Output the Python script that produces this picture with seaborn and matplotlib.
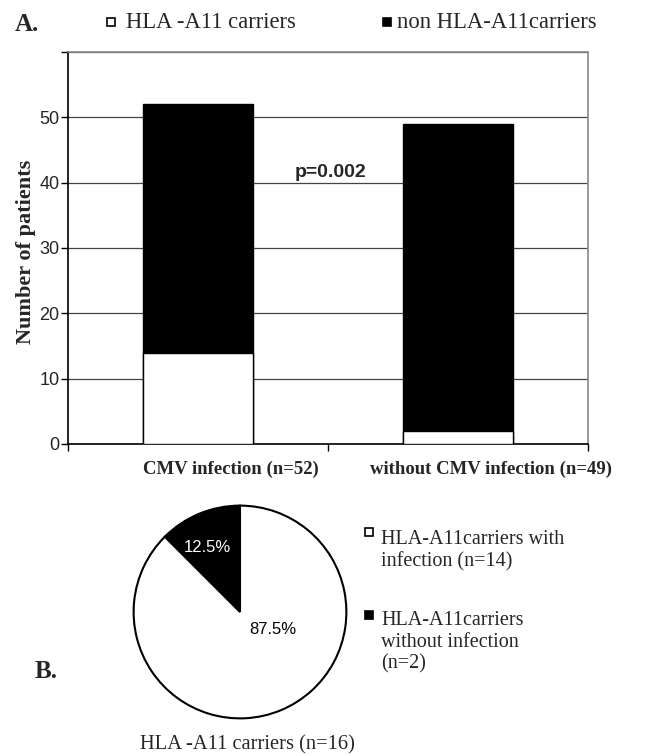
import numpy as np
import pandas as pd
import seaborn as sns
import matplotlib.pyplot as plt
import matplotlib.transforms as mtransforms
from matplotlib.lines import Line2D

# --- data -------------------------------------------------------------
groups = ['CMV infection (n=52)', 'without CMV infection (n=49)']
a11_carriers = [14, 2]
non_a11_carriers = [38, 47]
bar_legend = ['HLA -A11 carriers', 'non HLA-A11carriers']

pie_values = [2, 14]  # without infection, with infection
pie_colors = ['black', 'white']
pie_legend = ['HLA-A11carriers with\ninfection (n=14)',
              'HLA-A11carriers\nwithout infection\n(n=2)']
pie_title = 'HLA -A11 carriers (n=16)'
p_text = 'p=0.002'

yticks = [0, 10, 20, 30, 40, 50, 60]

sns.set_theme(style='white')
plt.rcParams['font.family'] = ['Liberation Serif', 'DejaVu Sans']

df = pd.DataFrame({'group': groups,
                   'carriers': a11_carriers,
                   'total': np.array(a11_carriers) + np.array(non_a11_carriers)})

fig = plt.figure(figsize=(6.45, 7.55), dpi=100)

def fy(py):
    # pixel row -> figure fraction
    return 1 - py / 755

# --- panel A: stacked bars -------------------------------------------
ax = fig.add_axes([68 / 645, fy(444), 520 / 645, 392 / 755])
sns.barplot(data=df, x='group', y='total', color='black', width=0.42,
            edgecolor='black', linewidth=1, saturation=1, ax=ax, zorder=3)
sns.barplot(data=df, x='group', y='carriers', color='white', width=0.42,
            edgecolor='black', linewidth=1, saturation=1, ax=ax, zorder=3)

ax.set_xlim(-0.5, 1.5)
ax.set_ylim(0, 60)
ax.set_yticks(yticks)
ax.set_yticklabels([str(t) if t < 60 else '' for t in yticks],
                   family='Liberation Sans', fontsize=13)
ax.yaxis.grid(True, color='#444444', linewidth=0.9)
ax.set_axisbelow(True)
ax.tick_params(axis='y', which='major', left=True, length=5, width=1,
               color='black', pad=1)
ax.set_xticks([-0.5, 0.5, 1.5], minor=True)
ax.tick_params(axis='x', which='minor', bottom=True, length=5, width=1,
               color='black')
ax.tick_params(axis='x', which='major', length=0, pad=12)
ax.set_xticklabels(groups, fontsize=13.5, fontweight='bold')
shift = mtransforms.ScaledTranslation(0.33, 0, fig.dpi_scale_trans)
for lab in ax.get_xticklabels():
    lab.set_transform(lab.get_transform() + shift)
ax.set_xlabel('')
ax.set_ylabel('Number of patients', fontsize=16, fontweight='bold')
ax.yaxis.set_label_coords(-0.062, 0.49)

for side in ['top', 'right']:
    ax.spines[side].set_color('#888888')
    ax.spines[side].set_linewidth(1.2)
for side in ['left', 'bottom']:
    ax.spines[side].set_color('black')
    ax.spines[side].set_linewidth(1.2)

ax.text(0.508, 41.5, p_text, ha='center', va='center', fontsize=14,
        fontweight='bold', family='Liberation Sans')

# legend of panel A (marker + text, one row)
for col, lab, mx, tx in zip(['white', 'black'], bar_legend,
                            [111, 387], [126, 397]):
    fig.add_artist(Line2D([mx / 645], [fy(22)], marker='s', markersize=6,
                          markerfacecolor=col, markeredgecolor='black',
                          markeredgewidth=1.2, linestyle='none'))
    fig.text(tx / 645, fy(28), lab, fontsize=16.3, va='baseline', ha='left')

fig.text(15 / 645, fy(31), 'A.', fontsize=18, fontweight='bold',
         va='baseline', ha='left')

# --- panel B: pie -----------------------------------------------------
pax = fig.add_axes([132 / 645, fy(720), 216 / 645, 216 / 755])
pax.pie(pie_values, colors=pie_colors, startangle=90, counterclock=True,
        radius=0.985, wedgeprops=dict(edgecolor='black', linewidth=1.5))
pax.set_xlim(-1, 1)
pax.set_ylim(-1, 1)
total = sum(pie_values)
pct = [f'{100 * v / total:.1f}%' for v in pie_values]
pax.text(-0.305, 0.6, pct[0], color='white', ha='center', va='center',
         fontsize=12, family='Liberation Sans')
pax.text(0.305, -0.16, pct[1], color='black', ha='center', va='center',
         fontsize=12, family='Liberation Sans')

for col, lab, ty, my in zip(['white', 'black'], pie_legend,
                            [530, 611], [532, 615]):
    fig.add_artist(Line2D([369 / 645], [fy(my)], marker='s',
                          markersize=5.5, markerfacecolor=col,
                          markeredgecolor='black', markeredgewidth=1.2,
                          linestyle='none'))
    fig.text(381 / 645, fy(ty), lab, fontsize=14.5, va='top',
             ha='left', linespacing=1.18)

fig.text(247 / 645, fy(745), pie_title, fontsize=14.8, ha='center',
         va='center')
fig.text(35 / 645, fy(678), 'B.', fontsize=18, fontweight='bold',
         va='baseline', ha='left')

fig.savefig('out.png', dpi=100, facecolor='white')
